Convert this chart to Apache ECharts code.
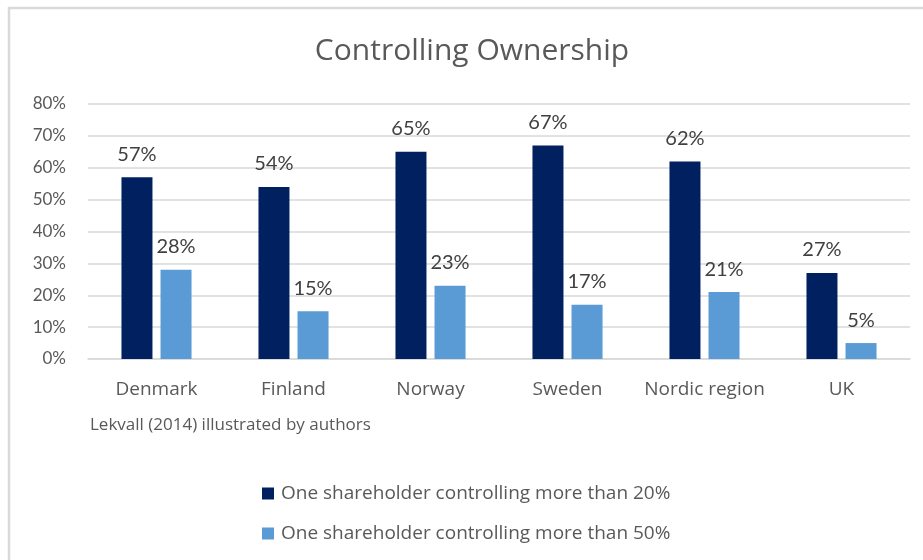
<!DOCTYPE html>
<html>
<head>
<meta charset="utf-8">
<script src="https://cdn.jsdelivr.net/npm/echarts@6/dist/echarts.min.js"></script>
<style>
  html, body { margin: 0; padding: 0; background: #fff; }
  #chart { width: 923px; height: 560px; }
</style>
</head>
<body>
<div id="chart"></div>
<script>
// Share of listed companies with a controlling shareholder
const categories = ['Denmark', 'Finland', 'Norway', 'Sweden', 'Nordic region', 'UK'];
const over20 = [57, 54, 65, 67, 62, 27];
const over50 = [28, 15, 23, 17, 21, 5];
const seriesNames = [
  'One shareholder controlling more than 20%',
  'One shareholder controlling more than 50%'
];
const titleText = 'Controlling Ownership';
const sourceText = 'Lekvall (2014) illustrated by authors';

const FONT = '"Open Sans", Lato, sans-serif';
const NUM_FONT = 'Lato, "Open Sans", sans-serif';
const GREY = '#595959';

const chart = echarts.init(document.getElementById('chart'), null, { renderer: 'canvas' });

const labelCfg = {
  show: true,
  position: 'top',
  distance: 13,
  formatter: p => p.value + '%',
  color: '#404040',
  fontFamily: NUM_FONT,
  fontSize: 20
};

chart.setOption({
  backgroundColor: '#fff',
  animation: false,
  grid: { left: 88, right: 13, top: 104, bottom: 201, containLabel: false },
  xAxis: {
    type: 'category',
    data: categories,
    axisLine: { show: true, lineStyle: { color: '#d9d9d9', width: 1.5 } },
    axisTick: { show: false },
    axisLabel: { interval: 0, color: GREY, fontFamily: FONT, fontSize: 19, margin: 21 }
  },
  yAxis: {
    type: 'value',
    min: 0,
    max: 80,
    interval: 10,
    axisLine: { show: false },
    axisTick: { show: false },
    axisLabel: { color: GREY, fontFamily: NUM_FONT, fontSize: 17, margin: 22, formatter: v => v + '%' },
    splitLine: { lineStyle: { color: '#d9d9d9', width: 1.5 } }
  },
  legend: {
    orient: 'vertical',
    left: 262,
    top: 484,
    padding: 0,
    itemWidth: 12,
    itemHeight: 12,
    itemGap: 21,
    icon: 'rect',
    textStyle: { color: GREY, fontFamily: FONT, fontSize: 19, padding: [0, 0, 0, 2] },
    data: seriesNames
  },
  series: [
    {
      name: seriesNames[0],
      type: 'bar',
      data: over20,
      barWidth: 31,
      barGap: '26%',
      itemStyle: { color: '#002060' },
      label: labelCfg
    },
    {
      name: seriesNames[1],
      type: 'bar',
      data: over50,
      barWidth: 31,
      itemStyle: { color: '#5b9bd5' },
      label: labelCfg
    }
  ],
  graphic: [
    {
      type: 'text',
      x: 472,
      y: 51,
      style: {
        text: titleText,
        align: 'center',
        verticalAlign: 'middle',
        fill: GREY,
        font: '30px ' + FONT
      }
    },
    {
      type: 'text',
      x: 90,
      y: 425,
      style: {
        text: sourceText,
        align: 'left',
        verticalAlign: 'middle',
        fill: GREY,
        font: '17px ' + FONT
      }
    },
    {
      type: 'polyline',
      shape: { points: [[9, 560], [9, 8], [923, 8]] },
      style: { stroke: '#d9d9d9', lineWidth: 2.5, fill: null }
    }
  ]
});
</script>
</body>
</html>
